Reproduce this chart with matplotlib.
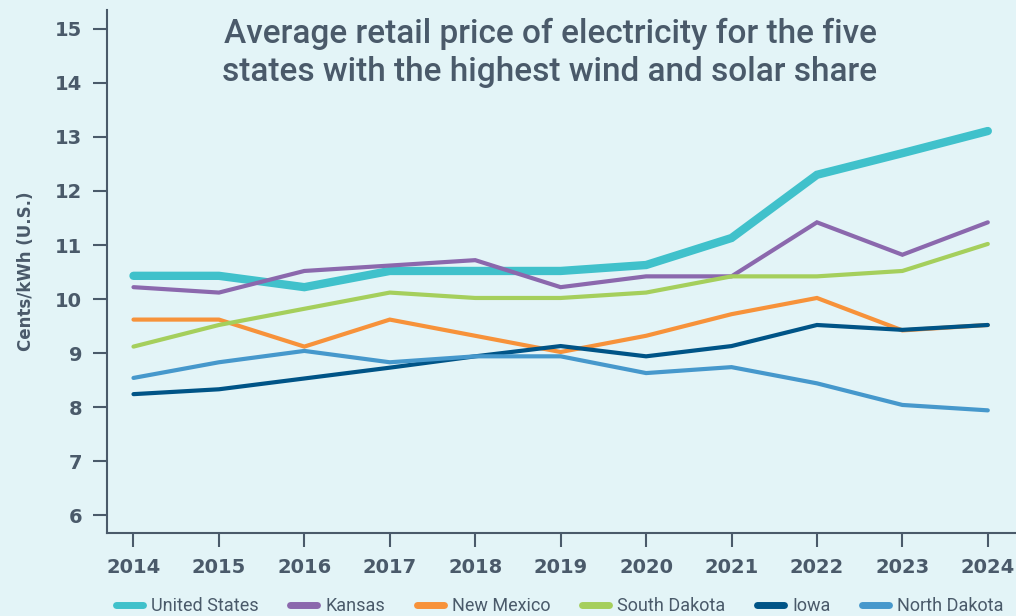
import matplotlib
matplotlib.use("Agg")
import matplotlib.pyplot as plt

# Average retail electricity price, cents/kWh
years = [2014, 2015, 2016, 2017, 2018, 2019, 2020, 2021, 2022, 2023, 2024]
united_states = [10.43, 10.43, 10.22, 10.52, 10.52, 10.52, 10.63, 11.13, 12.30, 12.70, 13.11]
kansas = [10.22, 10.12, 10.52, 10.62, 10.72, 10.22, 10.42, 10.42, 11.42, 10.82, 11.42]
new_mexico = [9.62, 9.62, 9.12, 9.62, 9.32, 9.02, 9.32, 9.72, 10.02, 9.42, 9.52]
south_dakota = [9.12, 9.52, 9.82, 10.12, 10.02, 10.02, 10.12, 10.42, 10.42, 10.52, 11.02]
iowa = [8.24, 8.33, 8.53, 8.73, 8.94, 9.13, 8.94, 9.13, 9.52, 9.43, 9.52]
north_dakota = [8.54, 8.83, 9.04, 8.83, 8.94, 8.94, 8.63, 8.74, 8.44, 8.04, 7.94]

series = [
    ("United States", united_states, "#40c1cb", 6.0),
    ("Kansas", kansas, "#8b68ad", 3.0),
    ("New Mexico", new_mexico, "#f7923a", 3.0),
    ("South Dakota", south_dakota, "#a5cf5c", 3.0),
    ("Iowa", iowa, "#005487", 3.0),
    ("North Dakota", north_dakota, "#4698cc", 3.0),
]

bg = "#e3f4f7"
ink = "#4a5a6a"
plt.rcParams["font.family"] = ["Roboto", "DejaVu Sans"]

fig = plt.figure(figsize=(10.16, 6.16), dpi=100, facecolor=bg)
ax = fig.add_axes([107 / 1016, 1 - 533 / 616, 909 / 1016, 523 / 616])
ax.set_facecolor(bg)

for name, vals, color, lw in series:
    ax.plot(years, vals, color=color, lw=lw, label=name, solid_capstyle="round",
            solid_joinstyle="miter")

ax.set_xlim(2013.69, 2024.33)
ax.set_ylim(5.67, 15.35)
ax.set_xticks(years)
ax.set_yticks(range(6, 16))
for s in ["top", "right"]:
    ax.spines[s].set_visible(False)
for s in ["left", "bottom"]:
    ax.spines[s].set_color(ink)
    ax.spines[s].set_linewidth(1.5)
ax.tick_params(colors=ink, width=1.5, length=10, pad=8, labelsize=14)
ax.tick_params(axis="x", length=10, pad=8)
for lbl in ax.get_xticklabels() + ax.get_yticklabels():
    lbl.set_fontweight("bold")
    lbl.set_family("DejaVu Sans")

ax.set_ylabel("Cents/kWh (U.S.)", color=ink, fontsize=12, fontweight="bold",
              family="DejaVu Sans", labelpad=14)

fig.text(550 / 1016, 1 - 53 / 616, "Average retail price of electricity for the five\n"
         "states with the highest wind and solar share",
         ha="center", va="center", color=ink, fontsize=24, fontweight="medium",
         linespacing=1.25)

leg = fig.legend(loc="center right", bbox_to_anchor=(1020 / 1016, 1 - 606 / 616), ncol=6,
                 frameon=False, handlelength=1.5, columnspacing=1.75,
                 handletextpad=0.45, prop={"size": 13})
for t in leg.get_texts():
    t.set_color(ink)
for h in leg.get_lines():
    h.set_linewidth(5)

fig.savefig("out.png", dpi=100, facecolor=bg)
